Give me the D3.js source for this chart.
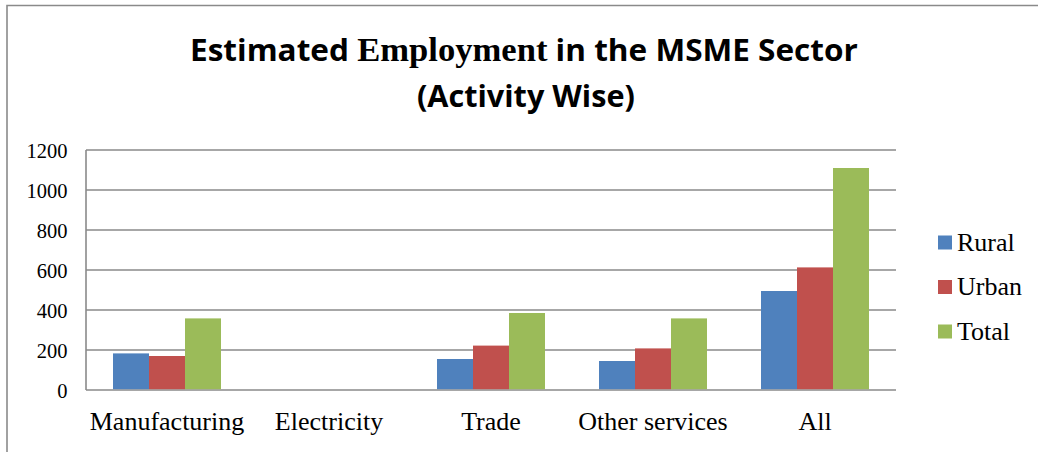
<!DOCTYPE html>
<html>
<head>
<meta charset="utf-8">
<script src="https://cdn.jsdelivr.net/npm/d3@7"></script>
<style>
  html, body { margin: 0; padding: 0; background: #fff; }
  svg { display: block; }
</style>
</head>
<body>
<svg id="chart" width="1038" height="452"></svg>
<script>
// Employment by activity (thousands), rural vs urban vs total
const categories = ["Manufacturing", "Electricity", "Trade", "Other services", "All"];
const seriesNames = ["Rural", "Urban", "Total"];
const rural = [183, 0, 155, 145, 495];
const urban = [170, 0, 222, 208, 613];
const total = [358, 0, 385, 358, 1110];
const yTicks = [0, 200, 400, 600, 800, 1000, 1200];
const colors = ["#4F81BD", "#C0504D", "#9BBB59"];

const seriesValues = [rural, urban, total];

const svg = d3.select("#chart");
const W = 1038, H = 452;
const plot = { left: 86, right: 896, top: 150, bottom: 390 };
const gridColor = "#8a8a8a";
const serif = "'Liberation Serif', 'Times New Roman', serif";
const sans = "'Open Sans', Lato, sans-serif";

// outer chart frame (top and left edges visible)
svg.append("path")
  .attr("d", `M7,${H} L7,5.5 L${W},5.5`)
  .attr("fill", "none")
  .attr("stroke", gridColor)
  .attr("stroke-width", 1.6);

// title: two lines, fitted to fixed widths
function titleLine(parts, cx, baseline, targetWidth) {
  const g = svg.append("g");
  const t = g.append("text")
    .attr("x", 0).attr("y", 0)
    .attr("fill", "#000");
  parts.forEach(p => {
    t.append("tspan")
      .attr("font-family", p.serif ? serif : sans)
      .attr("font-weight", "bold")
      .attr("font-size", p.serif ? 34 : 31)
      .text(p.text);
  });
  const w = t.node().getBBox().width;
  const s = targetWidth / w;
  g.attr("transform", `translate(${cx - targetWidth / 2},${baseline}) scale(${s},1)`);
}
titleLine([
  { text: "Estimated " },
  { text: "Employment", serif: true },
  { text: " in the MSME Sector" }
], 524, 61, 668);
titleLine([{ text: "(Activity Wise)" }], 526, 106.5, 218);

// scales
const x0 = d3.scaleBand().domain(categories).range([plot.left, plot.right]).padding(0);
const groupW = x0.bandwidth() * 3 / 4.5;
const groupOff = x0.bandwidth() * 0.75 / 4.5;
const x1 = d3.scaleBand().domain(seriesNames).range([0, groupW]).padding(0);
const y = d3.scaleLinear().domain([0, 1200]).range([plot.bottom, plot.top]);

// horizontal gridlines
svg.append("g")
  .selectAll("line")
  .data(yTicks)
  .join("line")
  .attr("x1", plot.left).attr("x2", plot.right)
  .attr("y1", d => y(d)).attr("y2", d => y(d))
  .attr("stroke", gridColor)
  .attr("stroke-width", 1.6);

// value axis line
svg.append("line")
  .attr("x1", plot.left).attr("x2", plot.left)
  .attr("y1", y(1200)).attr("y2", y(0))
  .attr("stroke", gridColor)
  .attr("stroke-width", 1.6);

// value axis labels
const yAxis = d3.axisLeft(y).tickValues(yTicks).tickSize(0).tickPadding(0).tickFormat(d3.format("d"));
const yg = svg.append("g").attr("transform", `translate(${plot.left - 18.5},0)`).call(yAxis);
yg.select(".domain").remove();
yg.selectAll("text")
  .attr("font-family", serif)
  .attr("font-size", 20.5)
  .attr("fill", "#000")
  .attr("dy", "0.36em");

// bars
const groups = svg.append("g")
  .selectAll("g")
  .data(categories)
  .join("g")
  .attr("transform", d => `translate(${x0(d) + groupOff},0)`);

groups.selectAll("rect")
  .data((c, i) => seriesNames.map((s, k) => ({ s, k, v: seriesValues[k][i] })))
  .join("rect")
  .attr("x", d => x1(d.s))
  .attr("width", x1.bandwidth())
  .attr("y", d => y(d.v))
  .attr("height", d => y(0) - y(d.v) - 0.8)
  .attr("fill", d => colors[d.k]);

// category labels
const xAxis = d3.axisBottom(x0).tickSize(0).tickPadding(0);
const xg = svg.append("g").attr("transform", `translate(0,${plot.bottom})`).call(xAxis);
xg.select(".domain").remove();
xg.selectAll("text")
  .attr("font-family", serif)
  .attr("font-size", 26)
  .attr("fill", "#000")
  .attr("dy", null)
  .attr("y", 40);

// legend
const legend = svg.append("g")
  .selectAll("g")
  .data(seriesNames)
  .join("g")
  .attr("transform", (d, i) => `translate(938,${235.5 + i * 44.5})`);
legend.append("rect")
  .attr("width", 14).attr("height", 14)
  .attr("fill", (d, i) => colors[i]);
legend.append("text")
  .attr("x", 19).attr("y", 15)
  .attr("font-family", serif)
  .attr("font-size", 26)
  .attr("fill", "#000")
  .text(d => d);
</script>
</body>
</html>
